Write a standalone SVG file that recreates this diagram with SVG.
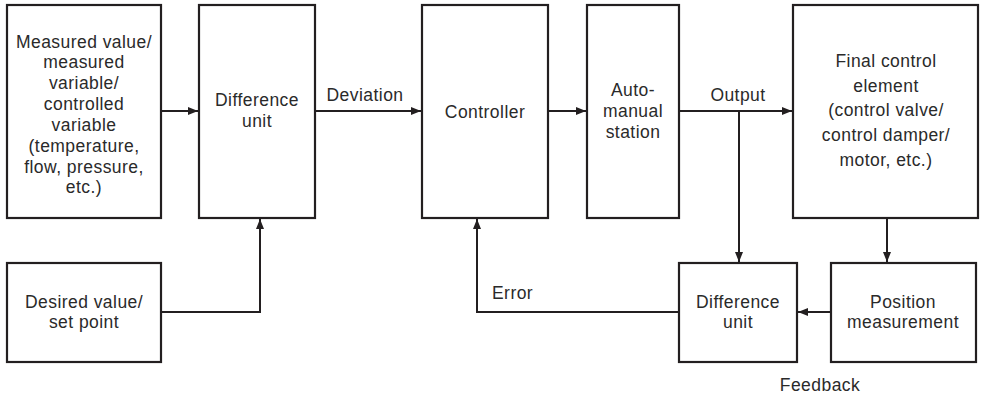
<svg xmlns="http://www.w3.org/2000/svg" width="983" height="396" viewBox="0 0 983 396">
<style>
.box{fill:#fff;stroke:#231f20;stroke-width:2.2}
.t{font-family:"Liberation Sans",Arial,sans-serif;font-size:17.5px;fill:#2a2a2a;text-anchor:middle;letter-spacing:0.45px}
.l{font-family:"Liberation Sans",Arial,sans-serif;font-size:17.5px;fill:#2a2a2a;letter-spacing:0.45px}
.c{fill:none;stroke:#231f20;stroke-width:2;marker-end:url(#ah)}
</style>
<defs>
<marker id="ah" viewBox="0 0 10 10" refX="10" refY="5" markerWidth="10" markerHeight="10" markerUnits="userSpaceOnUse" orient="auto">
<path d="M0,1 L10,5 L0,9 Z" fill="#231f20"/>
</marker>
</defs>
<rect width="983" height="396" fill="#fff"/>
<g id="connectors">
<path class="c" d="M161,111 H198"/>
<path class="c" d="M315,111 H421"/>
<path class="c" d="M548,111 H586"/>
<path class="c" d="M679,111 H792"/>
<path class="c" d="M161,312 H260 V219"/>
<path class="c" d="M679,312 H477 V219"/>
<path class="c" d="M739,111 V262"/>
<path class="c" d="M887,218 V262"/>
<path class="c" d="M831,312 H798"/>
<text class="t" x="365" y="101">Deviation</text>
<text class="t" x="738" y="101">Output</text>
<text class="l" x="492" y="299">Error</text>
<text class="t" x="820" y="391">Feedback</text>
</g>
<g id="measured">
<rect class="box" x="7" y="5" width="154" height="213"/>
<text class="t" x="84" y="47.5">Measured value/</text>
<text class="t" x="84" y="68.3">measured</text>
<text class="t" x="84" y="89">variable/</text>
<text class="t" x="84" y="110">controlled</text>
<text class="t" x="84" y="131">variable</text>
<text class="t" x="84" y="152">(temperature,</text>
<text class="t" x="84" y="172.5">flow, pressure,</text>
<text class="t" x="84" y="193">etc.)</text>
</g>
<g id="diff1">
<rect class="box" x="199" y="5" width="116" height="213"/>
<text class="t" x="257" y="106">Difference</text>
<text class="t" x="257" y="127">unit</text>
</g>
<g id="controller">
<rect class="box" x="422" y="5" width="126" height="213"/>
<text class="t" x="485" y="118">Controller</text>
</g>
<g id="auto">
<rect class="box" x="587" y="5" width="92" height="213"/>
<text class="t" x="633" y="96">Auto-</text>
<text class="t" x="633" y="117">manual</text>
<text class="t" x="633" y="138">station</text>
</g>
<g id="final">
<rect class="box" x="793" y="5" width="185" height="213"/>
<text class="t" x="886" y="67">Final control</text>
<text class="t" x="886" y="92">element</text>
<text class="t" x="886" y="116">(control valve/</text>
<text class="t" x="886" y="141">control damper/</text>
<text class="t" x="886" y="166">motor, etc.)</text>
</g>
<g id="desired">
<rect class="box" x="7" y="263" width="154" height="99"/>
<text class="t" x="84" y="308">Desired value/</text>
<text class="t" x="84" y="328">set point</text>
</g>
<g id="diff2">
<rect class="box" x="679" y="263" width="118" height="99"/>
<text class="t" x="738" y="308">Difference</text>
<text class="t" x="738" y="328">unit</text>
</g>
<g id="position">
<rect class="box" x="831" y="263" width="145" height="99"/>
<text class="t" x="903" y="308">Position</text>
<text class="t" x="903" y="328">measurement</text>
</g>
</svg>
